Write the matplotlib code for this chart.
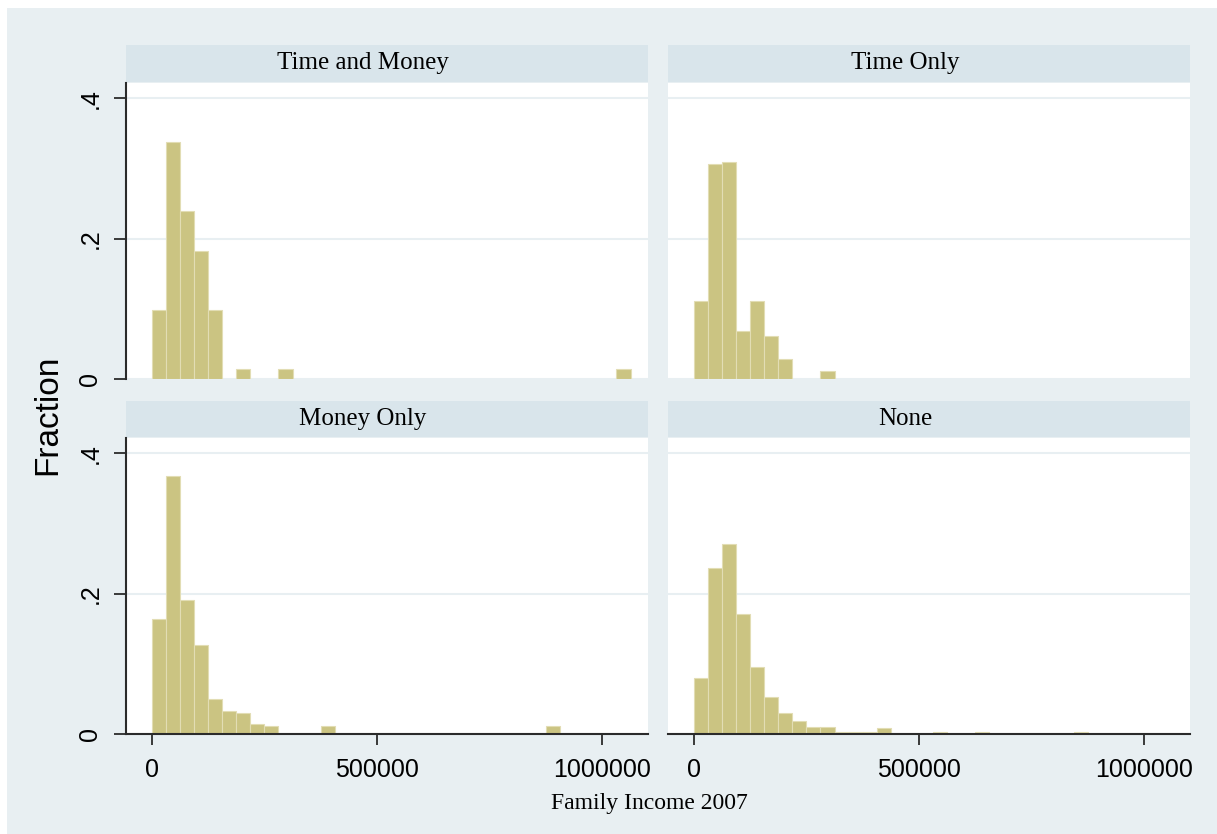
import numpy as np
import matplotlib.pyplot as plt
from matplotlib.patches import Rectangle

# histogram fractions per bin (bins start at 0, width bin_width)
bin_width = 31300
panel_names = ['Time and Money', 'Time Only', 'Money Only', 'None']

time_money = [0.0986, 0.338, 0.239, 0.183, 0.0986, 0, 0.0141, 0, 0, 0.0141,
              0, 0, 0, 0, 0, 0, 0, 0, 0, 0,
              0, 0, 0, 0, 0, 0, 0, 0, 0, 0,
              0, 0, 0, 0.0141]
time_only = [0.111, 0.306, 0.309, 0.069, 0.111, 0.061, 0.028, 0, 0, 0.011]
money_only = [0.1636, 0.368, 0.1905, 0.1267, 0.0492, 0.0331, 0.0298, 0.0142, 0.0109,
              0, 0, 0, 0.0109, 0, 0, 0, 0, 0, 0, 0,
              0, 0, 0, 0, 0, 0, 0, 0, 0.0109]
none = [0.0804, 0.2364, 0.271, 0.1716, 0.096, 0.0534, 0.030, 0.019, 0.0099, 0.0099,
        0.003, 0.003, 0.003, 0.008, 0, 0, 0, 0.003, 0, 0,
        0.003, 0, 0, 0, 0, 0, 0, 0.003]

y_ticks = [0, 0.2, 0.4]
y_labels = ['0', '.2', '.4']
x_ticks = [0, 500000, 1000000]
x_labels = ['0', '500000', '1000000']

bg = '#e8eff2'
strip_col = '#d9e5eb'
bar_col = '#cbc482'
bar_edge = '#e2ddb4'
axis_col = '#2b2b2b'

W, H = 1217, 834
fig = plt.figure(figsize=(W / 100, H / 100), dpi=100)
fig.patch.set_facecolor('white')
fig.patches.append(Rectangle((7 / W, 0), 1, 1 - 8 / H, transform=fig.transFigure,
                             facecolor=bg, edgecolor='none', zorder=-1))


def rect(x0, y0, x1, y1):
    return [x0 / W, 1 - y1 / H, (x1 - x0) / W, (y1 - y0) / H]


cols = [(126, 648), (668, 1190)]
rows = [(45, 82, 83, 379), (401, 437, 438, 734)]
data = [time_money, time_only, money_only, none]

for i in range(4):
    r, c = divmod(i, 2)
    x0, x1 = cols[c]
    s0, s1, p0, p1 = rows[r]

    # strip header
    st = fig.add_axes(rect(x0, s0, x1, s1))
    st.set_facecolor(strip_col)
    st.set_xticks([])
    st.set_yticks([])
    for sp in st.spines.values():
        sp.set_visible(False)
    st.text(0.5 - 24 / (x1 - x0), 0.5, panel_names[i], transform=st.transAxes,
            ha='center', va='center', fontsize=18, family='Liberation Serif')

    ax = fig.add_axes(rect(x0, p0, x1, p1))
    ax.set_facecolor('white')
    h = np.array(data[i])
    left = np.arange(len(h)) * bin_width
    keep = h > 0
    ax.bar(left[keep], h[keep], width=bin_width, align='edge',
           color=bar_col, edgecolor=bar_edge, linewidth=0.8, zorder=2)

    ax.set_xlim(-57000, 1103000)
    ax.set_ylim(0, 0.422)
    ax.set_yticks(y_ticks)
    ax.grid(axis='y', color=bg, linewidth=1.5, zorder=0)
    ax.set_axisbelow(True)
    for sp in ['top', 'right']:
        ax.spines[sp].set_visible(False)

    if c == 0:
        ax.set_yticklabels(y_labels, family='Liberation Sans')
        ax.tick_params(axis='y', length=9, width=1.3, color=axis_col, pad=8,
                       labelsize=18, labelrotation=90)
        for t in ax.get_yticklabels():
            t.set_va('center')
        ax.spines['left'].set_color(axis_col)
        ax.spines['left'].set_linewidth(1.5)
    else:
        ax.spines['left'].set_visible(False)
        ax.tick_params(axis='y', left=False, labelleft=False)

    if r == 1:
        ax.set_xticks(x_ticks)
        ax.set_xticklabels(x_labels, family='Liberation Sans')
        ax.tick_params(axis='x', length=8, width=1.3, color=axis_col, pad=9,
                       labelsize=18)
        ax.spines['bottom'].set_color(axis_col)
        ax.spines['bottom'].set_linewidth(1.5)
    else:
        ax.spines['bottom'].set_visible(False)
        ax.tick_params(axis='x', bottom=False, labelbottom=False)

fig.text(48 / W, 1 - 415 / H, 'Fraction', rotation=90, fontsize=24,
         family='Liberation Sans', ha='center', va='center')
fig.text(649 / W, 1 - 803 / H, 'Family Income 2007', fontsize=17,
         family='Liberation Serif', ha='center', va='center')

fig.savefig('out.png', dpi=100, facecolor=fig.get_facecolor())
